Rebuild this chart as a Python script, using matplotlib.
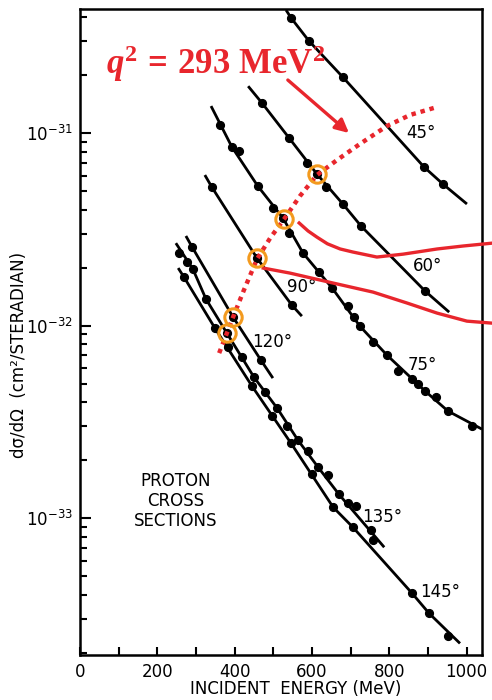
import matplotlib
matplotlib.use("Agg")
import matplotlib.pyplot as plt
from matplotlib.ticker import FixedLocator, MultipleLocator, NullFormatter, FixedFormatter

plt.rcParams["font.family"] = ["DejaVu Sans"]
plt.rcParams["mathtext.fontset"] = "dejavusans"
plt.rcParams["mathtext.rm"] = "Liberation Serif:bold"
plt.rcParams["mathtext.it"] = "Liberation Serif:italic:bold"
plt.rcParams["mathtext.bf"] = "Liberation Serif:bold"

RED = "#e8262d"
ORANGE = "#f39a1e"

# energies in MeV, cross sections in units of 1e-32 cm^2/sr
e45 = [546, 592, 680, 890, 939]
s45 = [39.6, 30.1, 19.5, 6.66, 5.43]
fit45_e = [533, 546, 592, 680, 890, 939, 1001]
fit45_s = [43.5, 39.6, 30.1, 19.5, 6.66, 5.43, 4.28]

e60 = [471, 541, 587, 613, 636, 680, 727, 893]
s60 = [14.3, 9.42, 6.98, 6.12, 5.24, 4.28, 3.29, 1.51]
fit60_e = [435, 471, 541, 613, 680, 727, 893, 955]
fit60_s = [17.5, 14.3, 9.42, 6.12, 4.28, 3.29, 1.51, 1.175]

e75 = [362, 393, 411, 460, 499, 525, 541, 577, 618, 652, 693, 709, 724,
       758, 794, 823, 859, 874, 893, 921, 952, 1014]
s75 = [11.0, 8.46, 8.06, 5.30, 4.08, 3.62, 3.02, 2.38, 1.90, 1.57, 1.26, 1.107, 0.994,
       0.821, 0.703, 0.580, 0.527, 0.497, 0.457, 0.425, 0.360, 0.301]
fit75_e = [339, 393, 460, 525, 577, 652, 724, 794, 893, 952, 1040]
fit75_s = [13.8, 8.46, 5.30, 3.62, 2.38, 1.57, 0.994, 0.703, 0.457, 0.360, 0.290]

e90 = [341, 458, 548]
s90 = [5.24, 2.24, 1.278]
fit90_e = [323, 341, 458, 548, 574]
fit90_s = [6.05, 5.24, 2.24, 1.278, 1.12]

e120 = [290, 396, 468]
s120 = [2.56, 1.107, 0.662]
fit120_e = [274, 290, 396, 468, 499]
fit120_s = [2.92, 2.56, 1.107, 0.662, 0.534]

e135 = [256, 277, 292, 326, 380, 419, 450, 479, 510, 536, 564, 590, 616, 642,
        670, 693, 714, 753, 758]
s135 = [2.38, 2.14, 1.966, 1.373, 0.914, 0.686, 0.540, 0.451, 0.373, 0.301, 0.254,
        0.223, 0.184, 0.167, 0.133, 0.120, 0.1154, 0.0866, 0.0769]
fit135_e = [248, 292, 326, 380, 450, 510, 564, 616, 670, 787]
fit135_s = [2.68, 1.966, 1.373, 0.914, 0.540, 0.373, 0.254, 0.184, 0.133, 0.0707]

e145 = [269, 349, 383, 445, 497, 546, 600, 655, 706, 859, 903, 952]
s145 = [1.786, 0.971, 0.773, 0.485, 0.339, 0.245, 0.169, 0.114, 0.0898, 0.0408,
        0.0321, 0.0244]
fit145_e = [254, 269, 349, 445, 546, 655, 706, 859, 903, 983]
fit145_s = [1.99, 1.786, 0.971, 0.485, 0.245, 0.114, 0.0898, 0.0408, 0.0321, 0.0224]

# constant momentum transfer locus and the points picked on it
q_e = [360, 380, 396, 424, 458, 492, 528, 569, 613, 665, 724, 794, 854, 924]
q_s = [0.720, 0.914, 1.107, 1.529, 2.216, 2.848, 3.574, 4.707, 6.05, 7.24, 8.769,
       10.87, 12.41, 13.65]
circ_e = [613, 528, 458, 396, 380]
circ_s = [6.12, 3.57, 2.24, 1.107, 0.914]

# red guide curves
red_a_e = [567, 590, 613, 640, 673, 706, 768, 836, 924, 991, 1066]
red_a_s = [3.41, 3.10, 2.88, 2.66, 2.50, 2.41, 2.27, 2.35, 2.50, 2.59, 2.68]
red_b_e = [474, 543, 655, 758, 846, 924, 1001, 1066]
red_b_s = [1.99, 1.874, 1.663, 1.493, 1.31, 1.161, 1.055, 1.03]

angle_labels = ["45°", "60°", "75°", "90°", "120°", "135°", "145°"]
label_e = [882, 898, 885, 574, 497, 781, 931]
label_s = [10.0, 2.04, 0.623, 1.585, 0.821, 0.101, 0.0413]

U = 1e-32

fig = plt.figure(figsize=(4.92, 7.0), dpi=100)
ax = fig.add_axes([0.1626, 0.0643, 0.8171, 0.9229])
ax.set_yscale("log")
ax.set_xlim(0, 1040)
ax.set_ylim(10 ** -33.71, 10 ** -30.356)

curves = [
    (e45, s45, fit45_e, fit45_s),
    (e60, s60, fit60_e, fit60_s),
    (e75, s75, fit75_e, fit75_s),
    (e90, s90, fit90_e, fit90_s),
    (e120, s120, fit120_e, fit120_s),
    (e135, s135, fit135_e, fit135_s),
    (e145, s145, fit145_e, fit145_s),
]
for e, s, fe, fs in curves:
    ax.plot(fe, [v * U for v in fs], color="black", lw=2.0, solid_capstyle="butt")
    ax.plot(e, [v * U for v in s], "o", color="black", ms=5.6)

for txt, x, y in zip(angle_labels, label_e, label_s):
    ax.text(x, y * U, txt, fontsize=12, ha="center", va="center")

ax.plot(red_a_e, [v * U for v in red_a_s], color=RED, lw=2.4, clip_on=False, zorder=3)
ax.plot(red_b_e, [v * U for v in red_b_s], color=RED, lw=2.4, clip_on=False, zorder=3)
ax.plot(q_e, [v * U for v in q_s], color=RED, lw=3.2, dashes=(1, 1.1), zorder=4)
ax.plot(circ_e, [v * U for v in circ_s], "o", mfc="none", mec=ORANGE, mew=2.2,
        ms=12.5, zorder=5)

ax.text(0.239, 0.2384, "PROTON\nCROSS\nSECTIONS", transform=ax.transAxes,
        fontsize=12, ha="center", va="center", linespacing=1.15)

ax.annotate("", xy=(0.669, 0.808), xytext=(0.517, 0.890), xycoords="axes fraction",
            arrowprops=dict(arrowstyle="-|>", color=RED, lw=2.4, mutation_scale=20,
                            shrinkA=0, shrinkB=0))
fig.text(0.2154, 0.894, r"$q^{\mathrm{2}}\,=\,\mathrm{293\ MeV^{2}}$", color=RED,
         fontsize=25, ha="left", va="baseline", math_fontfamily="custom")

# axes styling
for sp in ax.spines.values():
    sp.set_linewidth(1.8)
ax.xaxis.set_major_locator(MultipleLocator(200))
ax.xaxis.set_minor_locator(MultipleLocator(100))
ax.yaxis.set_major_locator(FixedLocator([1e-33, 1e-32, 1e-31]))
ax.yaxis.set_major_formatter(FixedFormatter([r"$10^{-33}$", r"$10^{-32}$", r"$10^{-31}$"]))
ax.yaxis.set_minor_locator(FixedLocator([m * 10.0 ** k for k in (-34, -33, -32, -31)
                                         for m in range(2, 10)]))
ax.yaxis.set_minor_formatter(NullFormatter())
ax.tick_params(which="both", direction="in", width=1.5, top=False, right=False,
               labelsize=12)
ax.tick_params(axis="x", which="both", length=6, pad=6)
ax.tick_params(axis="y", which="major", length=8, pad=5)
ax.tick_params(axis="y", which="minor", length=5)

fig.text(0.6, 0.015, "INCIDENT  ENERGY (MeV)", fontsize=12, ha="center", va="center")
fig.text(0.038, 0.493, "dσ/dΩ  (cm²/STERADIAN)", fontsize=12, rotation=90,
         ha="center", va="center")

fig.savefig("out.png", dpi=100)
